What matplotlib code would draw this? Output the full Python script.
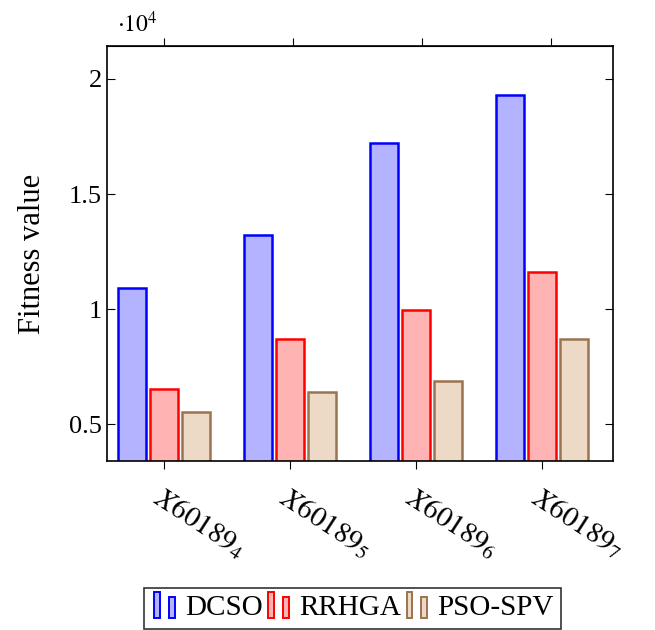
import numpy as np
import matplotlib
matplotlib.use('Agg')
from matplotlib import pyplot as plt
from matplotlib.patches import Rectangle
from matplotlib.legend_handler import HandlerBase

plt.rcParams['font.family'] = ['Liberation Serif', 'DejaVu Serif']
plt.rcParams['mathtext.fontset'] = 'stix'

#Data (values in units of 10^4)
categories = ['$X60189_4$', '$X60189_5$', '$X60189_6$', '$X60189_7$']
methods    = ['DCSO', 'RRHGA', 'PSO-SPV']
dcso       = [1.09, 1.32, 1.72, 1.93]
rrhga      = [0.652, 0.87, 0.996, 1.16]
pso_spv    = [0.552, 0.638, 0.687, 0.87]

edge_colors = ['#0000ff', '#ff0000', '#9a7450']
fill_colors = ['#b3b3ff', '#ffb3b3', '#ecd9c6']


class TwoBarHandler(HandlerBase):
    #pgfplots style legend image: two small bars
    def create_artists(self, legend, orig_handle, xdescent, ydescent, width, height, fontsize, trans):
        fc = orig_handle.get_facecolor()
        ec = orig_handle.get_edgecolor()
        w = width * 0.2
        r1 = Rectangle((-xdescent + width * 0.1, -ydescent - height * 0.15), w, height * 1.3,
                       facecolor=fc, edgecolor=ec, lw=1.4, transform=trans)
        r2 = Rectangle((-xdescent + width * 0.6, -ydescent - height * 0.15), w, height * 1.05,
                       facecolor=fc, edgecolor=ec, lw=1.4, transform=trans)
        return [r1, r2]


fig = plt.figure(figsize=(6.55, 6.3), dpi=100)
ax = fig.add_axes([107 / 655, 1 - 461 / 630, 506 / 655, 415 / 630])

x = np.arange(len(categories))
width  = 0.222
offset = 0.254
series = [dcso, rrhga, pso_spv]
handles = []
for i, values in enumerate(series):
    bars = ax.bar(x + (i - 1) * offset, values, width, color=fill_colors[i],
                  edgecolor=edge_colors[i], linewidth=1.8, label=methods[i])
    handles.append(bars[0])

ax.set_xlim(-0.452, 3.563)
ax.set_ylim(0.34, 2.143)
ax.set_yticks([0.5, 1, 1.5, 2])
ax.set_yticklabels(['0.5', '1', '1.5', '2'])
ax.set_xticks(x)
ax.set_xticklabels(categories, rotation=-33, ha='left', rotation_mode='anchor', fontsize=21)
ax.tick_params(axis='x', direction='out', length=6, pad=10, width=0.8)
ax.tick_params(axis='y', direction='in', length=6, right=True, labelsize=19, width=0.8)
for sp in ax.spines.values():
    sp.set_linewidth(1.2)

#Top axis ticks (slightly shifted, as in the reference)
top = ax.secondary_xaxis('top')
top.set_xticks(x + 0.024 * (x + 0.1))
top.set_xticklabels([])
top.tick_params(direction='out', length=6, width=0.8)

ax.set_ylabel('Fitness value', fontsize=22, labelpad=16)
ax.text(0.02, 1.02, r'$\cdot10^4$', transform=ax.transAxes, fontsize=17, va='bottom', ha='left')

leg = ax.legend(handles, methods, handler_map={h: TwoBarHandler() for h in handles},
                loc='upper center', bbox_to_anchor=(0.485, -0.305), ncol=3, fontsize=21,
                frameon=True, fancybox=False, edgecolor='black', handlelength=1.0,
                handletextpad=0.15, columnspacing=0.1, borderpad=0.25, borderaxespad=0)
leg.get_frame().set_linewidth(1.2)

plt.savefig('out.png', dpi=100)
